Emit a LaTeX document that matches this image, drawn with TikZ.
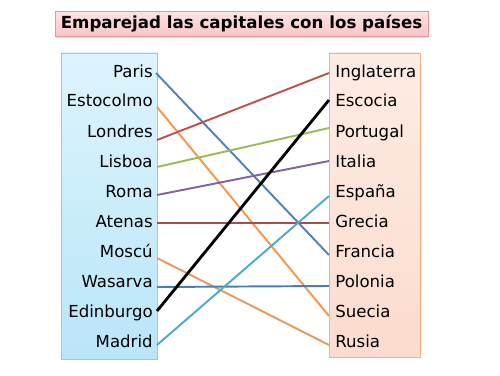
\documentclass[tikz,border=0pt]{standalone}
\usepackage{fontspec}
\setmainfont{DejaVu Sans}
\usetikzlibrary{shadows}
\definecolor{cParis}{HTML}{4F81BD}
\definecolor{cEsto}{HTML}{F79646}
\definecolor{cLond}{HTML}{C0504D}
\definecolor{cLisb}{HTML}{9BBB59}
\definecolor{cRoma}{HTML}{8064A2}
\definecolor{cAten}{HTML}{A5504E}
\definecolor{cMosc}{HTML}{E69A5E}
\definecolor{cWasa}{HTML}{4A7EBB}
\definecolor{cMadr}{HTML}{4BACC6}
\tikzset{
  lbl/.style={anchor=base east,inner sep=0pt,font=\fontsize{9.4}{11}\selectfont},
  rbl/.style={anchor=base west,inner sep=0pt,font=\fontsize{9.4}{11}\selectfont},
  conn/.style={line width=1.1pt},
  connb/.style={line width=1.6pt,black},
}
\begin{document}
\begin{tikzpicture}[x=0.567pt,y=-0.567pt]
\useasboundingbox (0,0) rectangle (500,375);
% title
\node[draw={rgb,255:red,226;green,150;blue,150}, line width=0.5pt, top color={rgb,255:red,253;green,228;blue,228}, bottom color={rgb,255:red,249;green,196;blue,196}, drop shadow={opacity=0.25,shadow xshift=0.3pt,shadow yshift=-0.8pt},
  minimum width=373*0.567pt, minimum height=25*0.567pt, inner sep=0pt,
  font=\bfseries\fontsize{9.45}{11}\selectfont] (title) at (241.5,24) {Emparejad las capitales con los países};
% boxes
\node[draw={rgb,255:red,147;green,205;blue,221}, line width=0.5pt, top color={rgb,255:red,221;green,244;blue,253}, bottom color={rgb,255:red,185;green,230;blue,248}, drop shadow={opacity=0.25,shadow xshift=0.3pt,shadow yshift=-0.8pt},
  minimum width=96*0.567pt, minimum height=306*0.567pt, inner sep=0pt] (lbox) at (109.8,206) {};
\node[draw={rgb,255:red,244;green,177;blue,131}, line width=0.5pt, top color={rgb,255:red,254;green,236;blue,228}, bottom color={rgb,255:red,252;green,220;blue,206}, drop shadow={opacity=0.25,shadow xshift=0.3pt,shadow yshift=-0.8pt},
  minimum width=91*0.567pt, minimum height=304*0.567pt, inner sep=0pt] (rbox) at (374.5,205) {};
% left labels
\node[lbl] (paris) at (153,77) {Paris};
\node[lbl] (esto) at (153,107) {Estocolmo};
\node[lbl] (lond) at (153,137) {Londres};
\node[lbl] (lisb) at (153,167) {Lisboa};
\node[lbl] (roma) at (153,197) {Roma};
\node[lbl] (aten) at (153,227) {Atenas};
\node[lbl] (mosc) at (153,257) {Moscú};
\node[lbl] (wasa) at (153,287) {Wasarva};
\node[lbl] (edin) at (153,317) {Edinburgo};
\node[lbl] (madr) at (153,347) {Madrid};
% right labels
\node[rbl] (ingl) at (335,77) {Inglaterra};
\node[rbl] (esco) at (335,107) {Escocia};
\node[rbl] (port) at (335,137) {Portugal};
\node[rbl] (ital) at (335,167) {Italia};
\node[rbl] (espa) at (335,197) {España};
\node[rbl] (grec) at (335,227) {Grecia};
\node[rbl] (fran) at (335,257) {Francia};
\node[rbl] (polo) at (335,287) {Polonia};
\node[rbl] (suec) at (335,317) {Suecia};
\node[rbl] (rusi) at (335,347) {Rusia};
% connector end points
\coordinate (pa) at (156,73);
\coordinate (es) at (157,107);
\coordinate (lo) at (157,140);
\coordinate (li) at (157,167);
\coordinate (ro) at (157,195);
\coordinate (at) at (157,223);
\coordinate (mo) at (157,258);
\coordinate (wa) at (157,287);
\coordinate (ed) at (157,311);
\coordinate (ma) at (157,345);
\coordinate (in) at (329,73);
\coordinate (ec) at (329,100);
\coordinate (po) at (329,128);
\coordinate (it) at (329,161);
\coordinate (eS) at (329,196);
\coordinate (gr) at (329,223);
\coordinate (fr) at (329,255);
\coordinate (pl) at (329,286);
\coordinate (su) at (329,316);
\coordinate (ru) at (329,345);
% connectors
\draw[conn,cParis] (pa) -- (fr);
\draw[conn,cEsto] (es) -- (su);
\draw[conn,cLond] (lo) -- (in);
\draw[conn,cLisb] (li) -- (po);
\draw[conn,cRoma] (ro) -- (it);
\draw[conn,cAten] (at) -- (gr);
\draw[conn,cMosc] (mo) -- (ru);
\draw[conn,cWasa] (wa) -- (pl);
\draw[connb] (ed) -- (ec);
\draw[conn,cMadr] (ma) -- (eS);
\end{tikzpicture}
\end{document}
